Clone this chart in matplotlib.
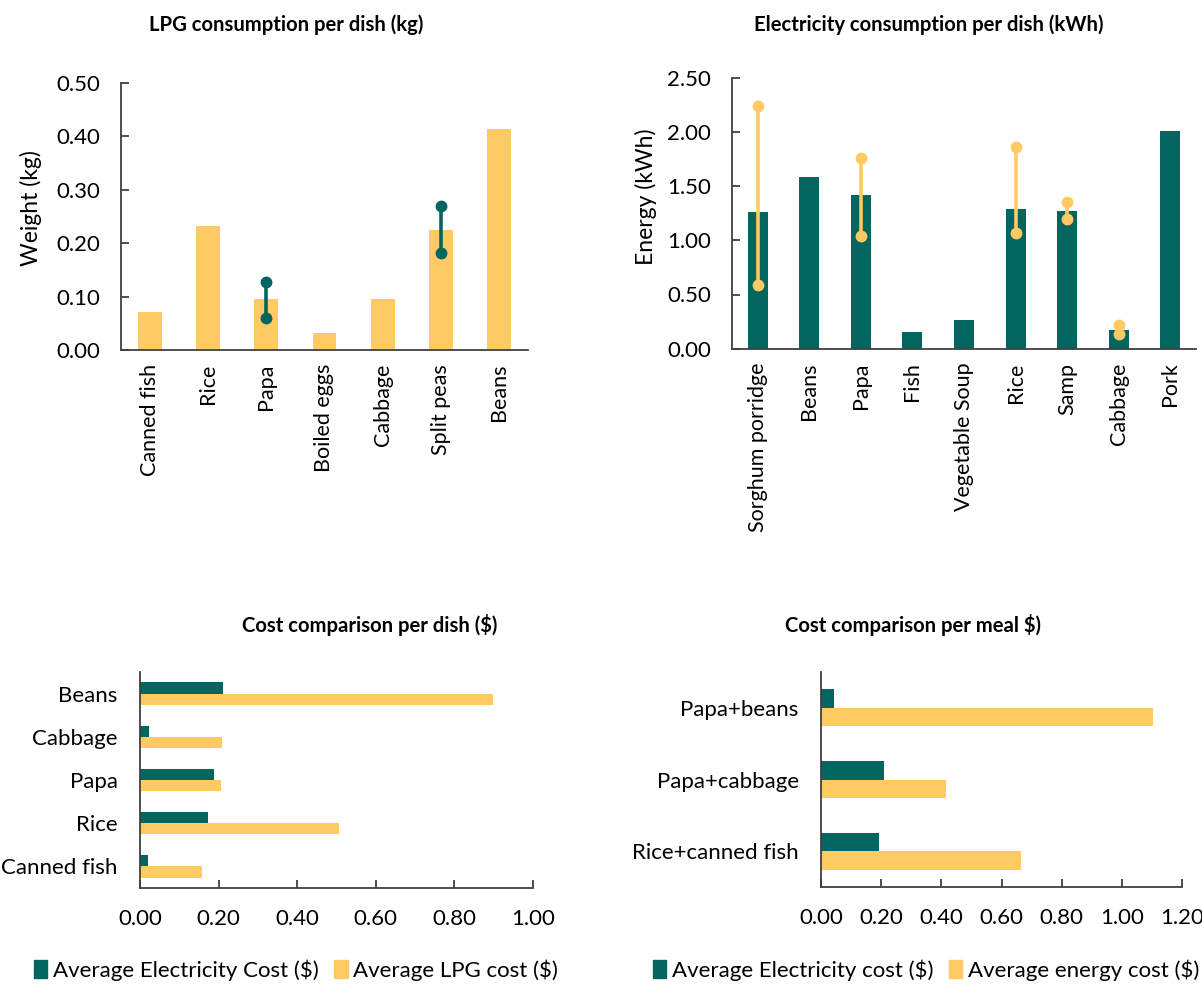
import numpy as np
import matplotlib
matplotlib.use("Agg")
import matplotlib.pyplot as plt
from matplotlib.patches import Patch
from matplotlib.ticker import FormatStrFormatter

plt.rcParams['font.family'] = ['Lato', 'DejaVu Sans']

TEAL = '#00665f'
GOLD = '#ffca64'
SPINE = '#404040'

# LPG use per dish (kg), with min/max where repeated cooks were logged
lpg_dishes = ['Canned fish', 'Rice', 'Papa', 'Boiled eggs', 'Cabbage', 'Split peas', 'Beans']
lpg_kg = [0.072, 0.233, 0.095, 0.032, 0.096, 0.225, 0.414]
lpg_lo = [np.nan, np.nan, 0.060, np.nan, np.nan, 0.182, np.nan]
lpg_hi = [np.nan, np.nan, 0.128, np.nan, np.nan, 0.269, np.nan]

# electricity use per dish (kWh)
elec_dishes = ['Sorghum porridge', 'Beans', 'Papa', 'Fish', 'Vegetable Soup',
               'Rice', 'Samp', 'Cabbage', 'Pork']
elec_kwh = [1.264, 1.586, 1.417, 0.156, 0.267, 1.288, 1.270, 0.172, 2.006]
elec_lo = [0.586, np.nan, 1.043, np.nan, np.nan, 1.064, 1.196, 0.138, np.nan]
elec_hi = [2.236, np.nan, 1.758, np.nan, np.nan, 1.865, 1.350, 0.215, np.nan]

# cost per dish ($)
cost_dishes = ['Canned fish', 'Rice', 'Papa', 'Cabbage', 'Beans']
cost_elec = [0.020, 0.172, 0.189, 0.023, 0.212]
cost_lpg = [0.158, 0.506, 0.207, 0.209, 0.898]

# cost per meal ($)
meals = ['Rice+canned fish', 'Papa+cabbage', 'Papa+beans']
meal_elec = [0.193, 0.211, 0.044]
meal_energy = [0.664, 0.415, 1.104]

W, H = 1202, 985
fig = plt.figure(figsize=(W / 100, H / 100), dpi=100)


def box(x0, y0, x1, y1):
    return [x0 / W, 1 - y1 / H, (x1 - x0) / W, (y1 - y0) / H]


def style(ax, xpad, ypad):
    for s in ['top', 'right']:
        ax.spines[s].set_visible(False)
    for s in ['left', 'bottom']:
        ax.spines[s].set_color(SPINE)
        ax.spines[s].set_linewidth(1.3)
    ax.tick_params(direction='in', length=5.5, width=1.3, color=SPINE,
                   labelsize=16, labelcolor='black')
    ax.tick_params(axis='x', pad=xpad)
    ax.tick_params(axis='y', pad=ypad)


def ranges(ax, lo, hi, color):
    x = np.arange(len(lo))
    lo = np.array(lo)
    hi = np.array(hi)
    ok = ~np.isnan(lo)
    ax.vlines(x[ok], lo[ok], hi[ok], color=color, lw=2.6, zorder=3)
    ax.plot(x[ok], lo[ok], 'o', color=color, ms=7.5, zorder=4)
    ax.plot(x[ok], hi[ok], 'o', color=color, ms=7.5, zorder=4)


# LPG per dish
ax1 = fig.add_axes(box(121, 83, 528, 350))
x = np.arange(len(lpg_dishes))
ax1.bar(x, lpg_kg, width=0.41, color=GOLD)
ranges(ax1, lpg_lo, lpg_hi, TEAL)
ax1.set_xlim(-0.5, len(lpg_dishes) - 0.5)
ax1.set_ylim(0, 0.5)
ax1.set_yticks(np.arange(0, 0.51, 0.1))
ax1.yaxis.set_major_formatter(FormatStrFormatter('%.2f'))
ax1.set_xticks(x)
style(ax1, 10, 15)
ax1.set_xticklabels(lpg_dishes, rotation=90, fontsize=15.5)
ax1.tick_params(axis='x', length=0)
ax1.set_ylabel('Weight (kg)', fontsize=16.5)
ax1.yaxis.set_label_coords(-0.194, 0.53)

# electricity per dish
ax2 = fig.add_axes(box(732, 77.7, 1196, 348.7))
x = np.arange(len(elec_dishes))
ax2.bar(x, elec_kwh, width=0.39, color=TEAL)
ranges(ax2, elec_lo, elec_hi, GOLD)
ax2.set_xlim(-0.5, len(elec_dishes) - 0.5)
ax2.set_ylim(0, 2.5)
ax2.set_yticks(np.arange(0, 2.51, 0.5))
ax2.yaxis.set_major_formatter(FormatStrFormatter('%.2f'))
ax2.set_xticks(x)
style(ax2, 10, 15)
ax2.set_xticklabels(elec_dishes, rotation=90, fontsize=15.5)
ax2.tick_params(axis='x', length=0)
ax2.set_ylabel('Energy (kWh)', fontsize=16.5)
ax2.yaxis.set_label_coords(-0.162, 0.56)

# cost per dish
ax3 = fig.add_axes(box(140, 672, 533, 888))
y = np.arange(len(cost_dishes))
ax3.barh(y + 0.13, cost_elec, height=0.26, color=TEAL)
ax3.barh(y - 0.13, cost_lpg, height=0.26, color=GOLD)
ax3.set_ylim(-0.5, len(cost_dishes) - 0.5)
ax3.set_xlim(0, 1.0)
ax3.set_xticks(np.arange(0, 1.01, 0.2))
ax3.xaxis.set_major_formatter(FormatStrFormatter('%.2f'))
ax3.set_yticks(y)
ax3.set_yticklabels(cost_dishes)
style(ax3, 15, 16)
ax3.tick_params(axis='y', length=0)

# cost per meal
ax4 = fig.add_axes(box(821, 672, 1182, 887))
y = np.arange(len(meals))
ax4.barh(y + 0.13, meal_elec, height=0.26, color=TEAL)
ax4.barh(y - 0.13, meal_energy, height=0.26, color=GOLD)
ax4.set_ylim(-0.5, len(meals) - 0.5)
ax4.set_xlim(0, 1.2)
ax4.set_xticks(np.arange(0, 1.21, 0.2))
ax4.xaxis.set_major_formatter(FormatStrFormatter('%.2f'))
ax4.set_yticks(y)
ax4.set_yticklabels(meals)
style(ax4, 15, 16)
ax4.tick_params(axis='y', length=0)

# panel titles
tkw = dict(fontsize=14.6, fontweight='bold', ha='center', va='center')
fig.text(286 / W, 1 - 25 / H, 'LPG consumption per dish (kg)', **tkw)
fig.text(929 / W, 1 - 25 / H, 'Electricity consumption per dish (kWh)', **tkw)
fig.text(370 / W, 1 - 625 / H, 'Cost comparison per dish ($)', **tkw)
fig.text(913 / W, 1 - 625 / H, 'Cost comparison per meal $)', **tkw)

# legends under the cost panels
lkw = dict(loc='center', ncol=2, frameon=False, fontsize=16,
           handlelength=0.6, handleheight=0.9, handletextpad=0.25,
           columnspacing=0.7, borderpad=0)
fig.legend(handles=[Patch(color=TEAL, label='Average Electricity Cost ($)'),
                    Patch(color=GOLD, label='Average LPG cost ($)')],
           bbox_to_anchor=(296 / W, 1 - 970 / H), **lkw)
fig.legend(handles=[Patch(color=TEAL, label='Average Electricity cost ($)'),
                    Patch(color=GOLD, label='Average energy cost ($)')],
           bbox_to_anchor=(926 / W, 1 - 970 / H), **lkw)

fig.savefig('out.png', dpi=100)
